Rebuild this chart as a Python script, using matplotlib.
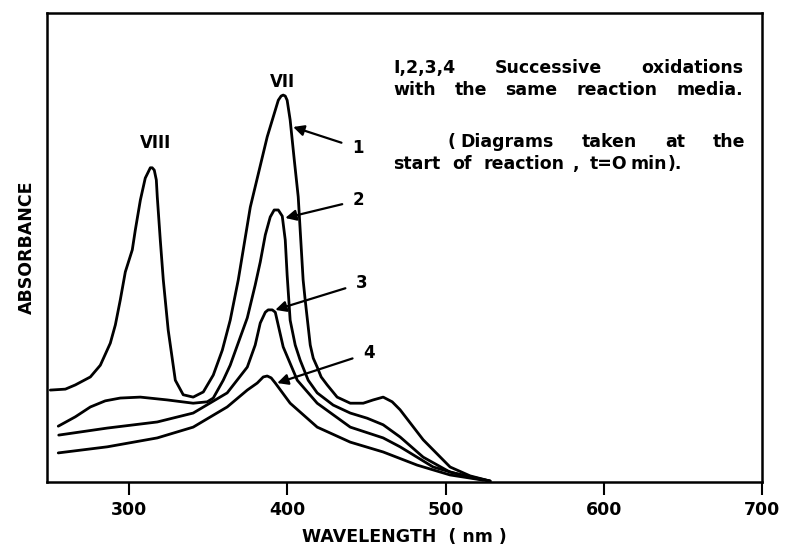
import matplotlib
matplotlib.use("Agg")
import matplotlib.pyplot as plt

# UV-vis spectra (absorbance in arbitrary units)
wl_1 = [250.1, 259.6, 265.9, 275.4, 281.7, 288.0, 291.2, 294.3, 297.5, 301.9,
        303.8, 307.0, 310.1, 312.0, 313.3, 314.5, 315.8, 317.1, 317.7, 319.6,
        321.5, 324.6, 329.1, 334.1, 340.4, 346.8, 353.1, 358.8, 363.8, 368.9,
        376.5, 387.2, 394.2, 396.0, 397.3, 398.6, 399.8, 401.7, 404.3, 406.8,
        409.9, 411.2, 414.4, 416.3, 418.8, 421.3, 425.1, 431.4, 439.7, 447.9,
        454.2, 460.5, 466.2, 471.2, 485.8, 502.8, 515.5, 528.1]
abs_1 = [0.196, 0.198, 0.207, 0.224, 0.249, 0.296, 0.335, 0.388, 0.448, 0.495,
         0.537, 0.601, 0.648, 0.661, 0.670, 0.670, 0.665, 0.644, 0.608, 0.516,
         0.431, 0.324, 0.217, 0.186, 0.181, 0.192, 0.228, 0.281, 0.345, 0.431,
         0.586, 0.736, 0.814, 0.823, 0.825, 0.823, 0.814, 0.772, 0.687, 0.608,
         0.431, 0.388, 0.292, 0.264, 0.245, 0.224, 0.207, 0.181, 0.168, 0.168,
         0.175, 0.181, 0.171, 0.154, 0.090, 0.032, 0.013, 0.002]

wl_2 = [255.1, 265.9, 275.4, 284.8, 294.3, 307.0, 324.0, 340.4, 349.3, 353.1,
        359.4, 363.8, 370.2, 374.6, 379.6, 382.8, 386.0, 389.1, 391.6, 394.2,
        396.7, 398.6, 399.8, 401.7, 404.9, 408.0, 413.1, 418.8, 428.9, 439.7,
        450.4, 460.5, 471.2, 485.8, 502.8, 528.1]
abs_2 = [0.119, 0.139, 0.160, 0.173, 0.179, 0.181, 0.175, 0.168, 0.171, 0.179,
         0.217, 0.249, 0.309, 0.350, 0.420, 0.469, 0.527, 0.565, 0.580, 0.580,
         0.567, 0.516, 0.441, 0.345, 0.292, 0.260, 0.217, 0.190, 0.164, 0.147,
         0.136, 0.122, 0.096, 0.053, 0.021, 0.002]

wl_3 = [255.4, 286.1, 317.7, 340.4, 361.9, 374.6, 379.6, 382.8, 386.0, 387.8,
        390.4, 392.3, 397.3, 406.2, 418.8, 439.7, 460.5, 471.2, 492.1, 513.6,
        528.1]
abs_3 = [0.100, 0.115, 0.128, 0.147, 0.190, 0.245, 0.292, 0.339, 0.362, 0.367,
         0.367, 0.362, 0.288, 0.217, 0.168, 0.117, 0.094, 0.075, 0.032, 0.011,
         0.002]

wl_4 = [255.1, 286.1, 317.7, 340.4, 361.9, 374.6, 380.9, 384.7, 387.2, 389.7,
        392.3, 401.7, 418.8, 439.7, 460.5, 482.0, 502.8, 523.7]
abs_4 = [0.062, 0.075, 0.094, 0.117, 0.160, 0.196, 0.211, 0.224, 0.226, 0.222,
         0.211, 0.168, 0.117, 0.085, 0.064, 0.036, 0.015, 0.004]

# curve labels: (text position, arrow tip)
curve_labels = ["1", "2", "3", "4"]
label_pos = [(440.9, 0.712), (441.5, 0.601), (443.4, 0.424), (447.9, 0.275)]
arrow_tip = [(403.6, 0.757), (398.6, 0.563), (392.3, 0.367), (393.5, 0.211)]

x_ticks = [300, 400, 500, 600, 700]

# note block, set word by word like the typed original: (x, text, align)
note_lines = [
    (0.883, [(466.8, "I,2,3,4", "left"), (531.3, "Successive", "left"),
             (688.0, "oxidations", "right")]),
    (0.836, [(466.8, "with", "left"), (505.8, "the", "left"),
             (537.9, "same", "left"), (582.6, "reaction", "left"),
             (688.0, "media.", "right")]),
    (0.725, [(500.9, "(", "left"), (509.2, "Diagrams", "left"),
             (586.2, "taken", "left"), (638.7, "at", "left"),
             (689.3, "the", "right")]),
    (0.678, [(466.8, "start", "left"), (504.1, "of", "left"),
             (523.7, "reaction", "left"), (580.0, ",", "left"),
             (591.3, "t=O", "left"), (616.6, "min", "left"),
             (640.6, ").", "left")]),
]

fig = plt.figure(figsize=(7.89, 5.56), dpi=100)
ax = fig.add_axes([0.0596, 0.1331, 0.9062, 0.8435])

for wl, ab in [(wl_1, abs_1), (wl_2, abs_2), (wl_3, abs_3), (wl_4, abs_4)]:
    ax.plot(wl, ab, color="black", lw=2.0, solid_joinstyle="round",
            solid_capstyle="round")

for lab, (tx, ty), (hx, hy) in zip(curve_labels, label_pos, arrow_tip):
    ax.annotate(lab, xy=(hx, hy), xytext=(tx, ty), fontsize=12,
                fontweight="bold", ha="left", va="center",
                arrowprops=dict(arrowstyle="-|>", color="black", lw=1.6,
                                mutation_scale=16, shrinkA=6, shrinkB=0))

ax.text(396.7, 0.853, "VII", fontsize=12, fontweight="bold", ha="center",
        va="center")
ax.text(316.4, 0.723, "VIII", fontsize=12, fontweight="bold", ha="center",
        va="center")

for y, words in note_lines:
    for x, w, align in words:
        ax.text(x, y, w, fontsize=12.5, fontweight="bold", ha=align,
                va="center")

ax.set_xlim(248, 700)
ax.set_ylim(0, 1)
ax.set_xticks(x_ticks)
ax.set_xticklabels([str(t) for t in x_ticks], fontsize=12.5, fontweight="bold")
ax.set_yticks([])
ax.tick_params(axis="x", direction="out", length=9, width=1.5, pad=5)
for sp in ax.spines.values():
    sp.set_linewidth(1.8)

ax.set_xlabel("WAVELENGTH  ( nm )", fontsize=12.5, fontweight="bold",
              labelpad=6)
ax.set_ylabel("ABSORBANCE", fontsize=12.5, fontweight="bold", labelpad=8)

fig.savefig("out.png", dpi=100)
